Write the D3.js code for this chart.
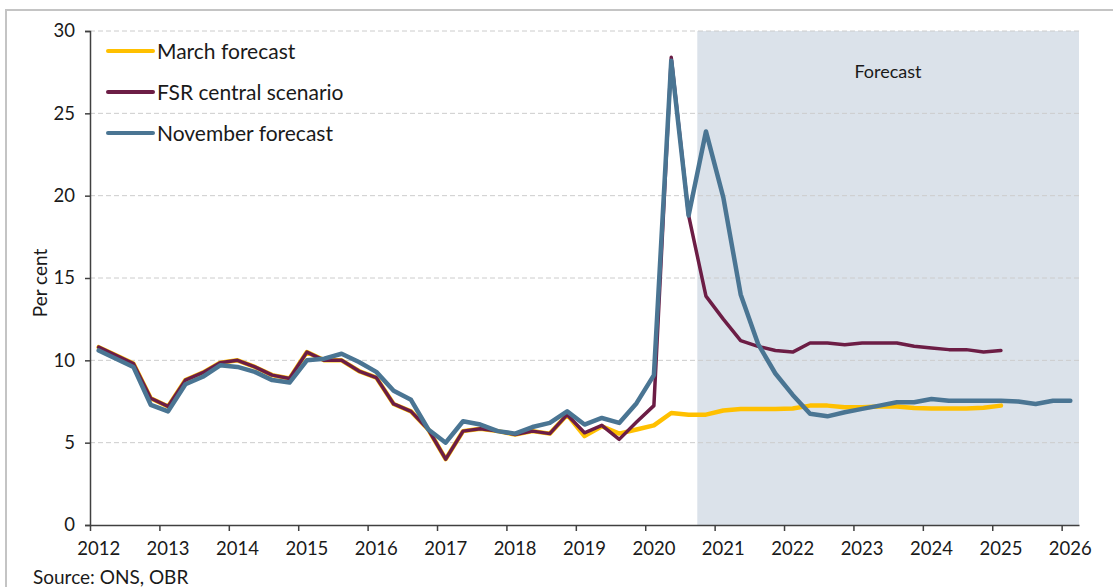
<!DOCTYPE html>
<html>
<head>
<meta charset="utf-8">
<script src="https://cdn.jsdelivr.net/npm/d3@7"></script>
<style>
  body { margin: 0; background: #fff; }
  svg text { font-family: "Lato", "Open Sans", sans-serif; fill: #1a1a1a; }
</style>
</head>
<body>
<svg id="chart"></svg>
<script>
// quarterly data, first point 2012 Q1
const startYear = 2012;
const forecastStart = 2020.75;
const yTicks = [0, 5, 10, 15, 20, 25, 30];
const xTickYears = [2012, 2013, 2014, 2015, 2016, 2017, 2018, 2019, 2020, 2021, 2022, 2023, 2024, 2025, 2026];
const seriesNames = ["March forecast", "FSR central scenario", "November forecast"];

const marchForecast = [10.8, 10.3, 9.8, 7.7, 7.2, 8.8, 9.25, 9.85, 10.0, 9.6, 9.1, 8.9, 10.5, 10.0, 10.0, 9.35,
  8.95, 7.35, 6.9, 5.8, 4.0, 5.7, 5.85, 5.7, 5.5, 5.7, 5.55, 6.7, 5.4, 6.0, 5.55, 5.8, 6.05, 6.8, 6.7, 6.7,
  6.95, 7.05, 7.05, 7.05, 7.08, 7.25, 7.25, 7.15, 7.15, 7.2, 7.2, 7.1, 7.08, 7.08, 7.08, 7.12, 7.25];
const fsrScenario = [10.8, 10.3, 9.8, 7.7, 7.2, 8.8, 9.25, 9.85, 10.0, 9.6, 9.1, 8.9, 10.5, 10.0, 10.0, 9.35,
  8.95, 7.35, 6.9, 5.8, 4.0, 5.7, 5.85, 5.7, 5.5, 5.7, 5.55, 6.7, 5.6, 6.05, 5.2, 6.25, 7.25, 28.4, 18.8, 13.9,
  12.5, 11.2, 10.85, 10.6, 10.5, 11.05, 11.05, 10.95, 11.05, 11.05, 11.05, 10.85, 10.75, 10.65, 10.65, 10.5, 10.6];
const novForecast = [10.6, 10.1, 9.6, 7.3, 6.9, 8.55, 9.0, 9.7, 9.6, 9.3, 8.8, 8.65, 10.0, 10.1, 10.4, 9.9,
  9.3, 8.15, 7.6, 5.8, 5.0, 6.3, 6.1, 5.7, 5.55, 5.95, 6.2, 6.9, 6.1, 6.5, 6.2, 7.4, 9.1, 28.2, 18.8, 23.9,
  19.9, 14.0, 11.0, 9.2, 7.9, 6.75, 6.6, 6.85, 7.05, 7.25, 7.45, 7.45, 7.65, 7.55, 7.55, 7.55, 7.55, 7.5, 7.35,
  7.55, 7.55];

const colors = ["#FFC000", "#6C1D45", "#4A7593"];
const widths = [4.5, 3.5, 4.5];

let svg = d3.select("#chart").attr("width", 1113).attr("height", 587);

// outer frame
svg.append("rect").attr("x", 6).attr("y", 10).attr("width", 1200).attr("height", 700)
  .attr("fill", "none").attr("stroke", "#c4c4c4").attr("stroke-width", 2);

let x = d3.scaleLinear().domain([2012, 2026.25]).range([90, 1079]);
let y = d3.scaleLinear().domain([0, 30]).range([525, 31]);

// quarter mid-points
const qx = i => startYear + 0.125 + 0.25 * i;

// forecast shading
svg.append("rect").attr("x", x(forecastStart)).attr("y", y(30))
  .attr("width", x(2026.25) - x(forecastStart)).attr("height", y(0) - y(30))
  .attr("fill", "#dbe2ea");

// gridlines
svg.append("g").selectAll("line").data(yTicks.filter(d => d > 0)).join("line")
  .attr("x1", x(2012)).attr("x2", x(2026.25))
  .attr("y1", d => y(d)).attr("y2", d => y(d))
  .attr("stroke", "#cccccc").attr("stroke-width", 1).attr("stroke-dasharray", "5,3");

svg.append("text").attr("x", 888).attr("y", 78).attr("text-anchor", "middle")
  .style("font-size", "18px").text("Forecast");

// lines
let line = d3.line().x((d, i) => x(qx(i))).y(d => y(d));
[marchForecast, fsrScenario, novForecast].forEach(function(s, k) {
  svg.append("path").datum(s).attr("d", line)
    .attr("fill", "none").attr("stroke", colors[k]).attr("stroke-width", widths[k])
    .attr("stroke-linejoin", "round").attr("stroke-linecap", "round");
});

// axes
let yAxis = d3.axisLeft(y).tickValues(yTicks).tickSize(5).tickPadding(10);
let gy = svg.append("g").attr("transform", "translate(90,0)").call(yAxis);
gy.select(".domain").attr("stroke", "#404040").attr("stroke-width", 1.5);
gy.selectAll(".tick line").attr("stroke", "#404040").attr("stroke-width", 1.5);
gy.selectAll("text").style("font-size", "18.5px").attr("fill", "#1a1a1a");

let xAxis = d3.axisBottom(x).tickValues(xTickYears).tickSize(6).tickSizeOuter(0).tickFormat("");
let gx = svg.append("g").attr("transform", "translate(0,525)").call(xAxis);
gx.select(".domain").attr("stroke", "#404040").attr("stroke-width", 1.5);
gx.selectAll(".tick line").attr("stroke", "#404040").attr("stroke-width", 1.5);

svg.append("g").selectAll("text").data(xTickYears).join("text")
  .attr("x", d => x(d + 0.125)).attr("y", 555).attr("text-anchor", "middle")
  .style("font-size", "18.5px").text(d => d);

svg.append("text").attr("transform", "translate(47,283)rotate(270)").attr("text-anchor", "middle")
  .style("font-size", "19px").text("Per cent");

svg.append("text").attr("x", 33).attr("y", 584).style("font-size", "19px").text("Source: ONS, OBR");

// legend
seriesNames.forEach(function(name, k) {
  let ly = 51 + k * 41;
  svg.append("line").attr("x1", 108).attr("x2", 153).attr("y1", ly).attr("y2", ly)
    .attr("stroke", colors[k]).attr("stroke-width", 4).attr("stroke-linecap", "round");
  svg.append("text").attr("x", 157).attr("y", ly + 7.5).style("font-size", "21px").text(name);
});
</script>
</body>
</html>
